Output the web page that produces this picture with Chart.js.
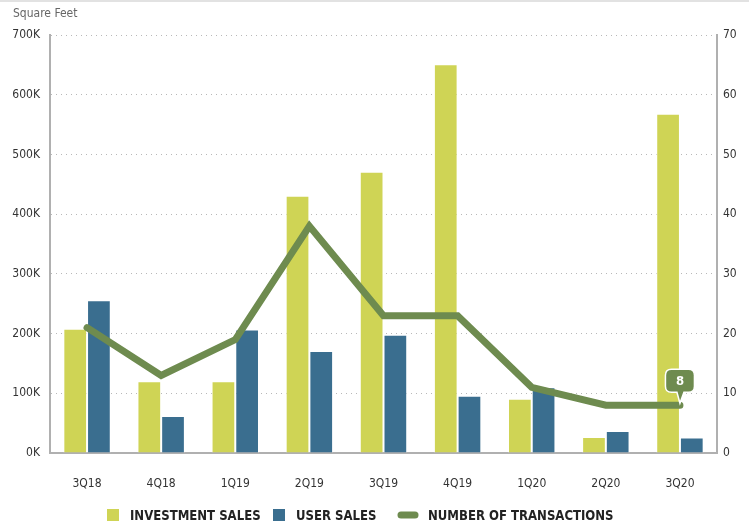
<!DOCTYPE html>
<html>
<head>
<meta charset="utf-8">
<script src="https://cdn.jsdelivr.net/npm/chart.js@4.4.1/dist/chart.umd.min.js"></script>
<style>
  html,body{margin:0;padding:0;background:#fff;}
  #wrap{width:749px;height:525px;position:relative;}
</style>
</head>
<body>
<div id="wrap"><canvas id="chart" width="749" height="525"></canvas></div>
<script>
// data
const quarters = ['3Q18','4Q18','1Q19','2Q19','3Q19','4Q19','1Q20','2Q20','3Q20'];
const investmentSales = [208000,120000,120000,431000,471000,651000,91000,27000,568000];
const userSales = [256000,62000,207000,171000,198000,96000,110000,37000,26000];
const transactions = [21,13,19,38,23,23,11,8,8];
const leftTicks = [0,100000,200000,300000,400000,500000,600000,700000];
const rightTicks = [0,10,20,30,40,50,60,70];

const FONT = "'Liberation Sans Narrow','DejaVu Sans Condensed','Roboto Condensed',Arial,sans-serif";
const GREEN = '#6e8b4f', LIME = '#cfd455', BLUE = '#3a6e8f';

// squeeze text horizontally so it looks like the condensed face
function narrowText(ctx, txt, x, y, sx){
  ctx.save();
  ctx.translate(x, y);
  ctx.scale(sx, 1);
  ctx.fillText(txt, 0, 0);
  ctx.restore();
}

// title, top rule, legend and the callout on the last point
const extras = {
  id:'extras',
  afterDraw(chart){
    const ctx = chart.ctx;
    ctx.save();
    ctx.fillStyle = '#e2e2e2';
    ctx.fillRect(0,0,749,2);
    ctx.fillStyle = '#666';
    ctx.font = '12px ' + FONT;
    ctx.textBaseline = 'middle';
    ctx.fillText('Square Feet', 13, 14);

    // callout
    const meta = chart.getDatasetMeta(2);
    const last = meta.data[meta.data.length-1];
    const px = last.x, py = last.y;
    const w = 29, h = 23, bx = px - w/2, by = py - 36;
    ctx.beginPath();
    const r = 6;
    ctx.moveTo(bx+r, by);
    ctx.lineTo(bx+w-r, by); ctx.quadraticCurveTo(bx+w, by, bx+w, by+r);
    ctx.lineTo(bx+w, by+h-r); ctx.quadraticCurveTo(bx+w, by+h, bx+w-r, by+h);
    ctx.lineTo(px+4, by+h); ctx.lineTo(px, py-2); ctx.lineTo(px-3, by+h);
    ctx.lineTo(bx+r, by+h); ctx.quadraticCurveTo(bx, by+h, bx, by+h-r);
    ctx.lineTo(bx, by+r); ctx.quadraticCurveTo(bx, by, bx+r, by);
    ctx.closePath();
    ctx.fillStyle = GREEN; ctx.fill();
    ctx.strokeStyle = '#fff'; ctx.lineWidth = 1.5; ctx.stroke();
    ctx.fillStyle = '#fff';
    ctx.font = 'bold 13px ' + FONT;
    ctx.textAlign = 'center';
    ctx.fillText(String(transactions[transactions.length-1]), px, by + h/2 + 1);

    // legend
    const ds = chart.data.datasets;
    const items = [
      {x:107, ds:ds[0], kind:'box'},
      {x:273, ds:ds[1], kind:'box'},
      {x:398, ds:ds[2], kind:'line'}
    ];
    ctx.textAlign = 'left';
    ctx.font = 'bold 14px ' + FONT;
    items.forEach(it=>{
      const y = 515;
      if(it.kind==='box'){
        ctx.fillStyle = it.ds.backgroundColor;
        ctx.fillRect(it.x, y-6, 12, 12);
        ctx.fillStyle = '#222';
        narrowText(ctx, it.ds.label, it.x+23, y+1, 0.93);
      } else {
        ctx.strokeStyle = it.ds.borderColor;
        ctx.lineWidth = 7; ctx.lineCap = 'round';
        ctx.beginPath(); ctx.moveTo(it.x+3, y); ctx.lineTo(it.x+17, y); ctx.stroke();
        ctx.fillStyle = '#222';
        narrowText(ctx, it.ds.label, it.x+30, y+1, 0.93);
      }
    });
    ctx.restore();
  }
};

new Chart(document.getElementById('chart'), {
  data:{
    labels: quarters,
    datasets:[
      {type:'bar', label:'INVESTMENT SALES', data:investmentSales, backgroundColor:LIME,
       borderColor:'rgba(255,255,255,0.7)', borderWidth:{left:1,right:1,top:1}, yAxisID:'y', order:2,
       categoryPercentage:0.64, barPercentage:1},
      {type:'bar', label:'USER SALES', data:userSales, backgroundColor:BLUE,
       borderColor:'rgba(255,255,255,0.7)', borderWidth:{left:1,right:1,top:1}, yAxisID:'y', order:2,
       categoryPercentage:0.64, barPercentage:1},
      {type:'line', label:'NUMBER OF TRANSACTIONS', data:transactions, borderColor:GREEN,
       backgroundColor:GREEN, borderWidth:7, pointRadius:0, tension:0, yAxisID:'y1', order:1,
       borderCapStyle:'round', borderJoinStyle:'miter'}
    ]
  },
  options:{
    responsive:false, animation:false,
    layout:{padding:{left:0,right:0,top:35,bottom:9}},
    plugins:{legend:{display:false}, tooltip:{enabled:false}},
    scales:{
      x:{
        grid:{display:false, drawTicks:false},
        border:{color:'#b0b0b0', width:2},
        ticks:{color:'#333', font:{family:FONT, size:12}, padding:24, maxRotation:0},
        afterFit(s){ s.height = 63; }
      },
      y:{
        position:'left', min:0, max:700000,
        afterFit(s){ s.width = 50; },
        afterBuildTicks(s){ s.ticks = leftTicks.map(v=>({value:v})); },
        grid:{color:'#b8b8b8', lineWidth:1, drawTicks:false},
        // in v4 border.dash applies to the grid lines, the axis line stays solid
        border:{color:'#b0b0b0', width:2, dash:[1,4]},
        ticks:{color:'#333', font:{family:FONT, size:12}, padding:10,
               callback:v=> (v/1000)+'K'}
      },
      y1:{
        position:'right', min:0, max:70,
        afterFit(s){ s.width = 32; },
        afterBuildTicks(s){ s.ticks = rightTicks.map(v=>({value:v})); },
        grid:{display:false, drawTicks:false},
        border:{color:'#b0b0b0', width:2},
        ticks:{color:'#333', font:{family:FONT, size:12}, padding:6}
      }
    }
  },
  plugins:[extras]
});
</script>
</body>
</html>
